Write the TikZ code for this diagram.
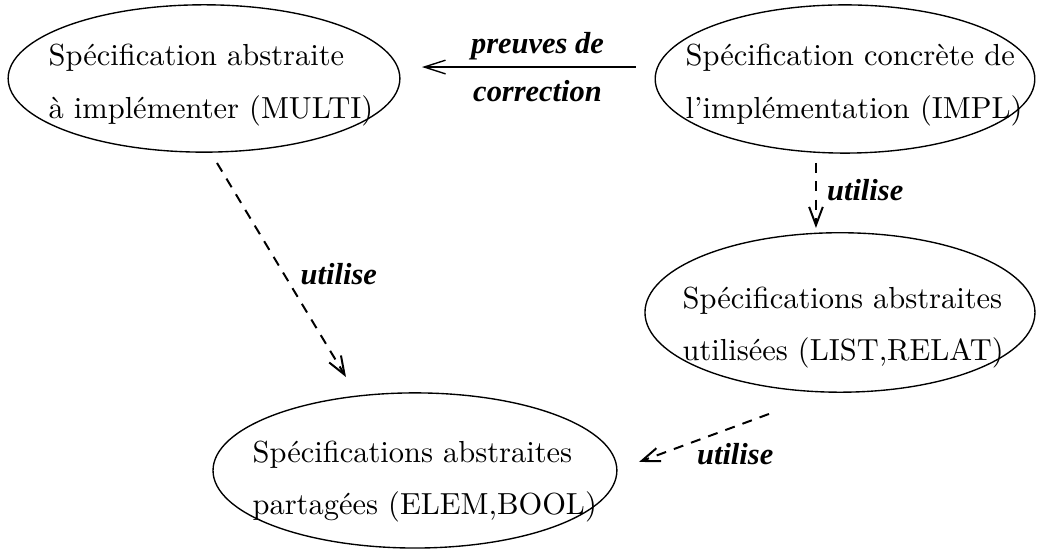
\documentclass[tikz,border=0pt]{standalone}
\usepackage{fontspec}
\newfontfamily\lblfont{Liberation Serif}
\usetikzlibrary{
  arrows.meta,
  shapes.geometric
}
\tikzset{
  spec/.style={
    draw,
    ellipse,
    inner sep=0pt,
    line width=0.45pt},
  txt/.style={
    anchor=west,
    align=left,
    inner sep=0pt},
  lbl/.style={
    font=\lblfont\bfseries\itshape},
  proof/.style={
    -{Straight Barb[length=7pt,width=4.5pt]},
    line width=0.45pt},
  uses/.style={
    -{Straight Barb[length=6pt,width=4.5pt]},
    dash pattern=on 3.3pt off 2.7pt,
    line width=0.65pt}
  }

\begin{document}
\begin{tikzpicture}
    \useasboundingbox (0,0) rectangle (12,6.4615);
    \node[spec, minimum width=4.52cm, minimum height=1.70cm] (multi) at (2.354,5.556) {};
    \node[spec, minimum width=4.38cm, minimum height=1.71cm] (impl) at (9.750,5.550) {};
    \node[spec, minimum width=4.50cm, minimum height=1.84cm] (used) at (9.692,2.856) {};
    \node[spec, minimum width=4.66cm, minimum height=1.79cm] (shared) at (4.788,1.033) {};
    \node[txt] (multi-t) at (0.554,5.480) {Spécification abstraite\\[5.1pt]à implémenter (MULTI)};
    \node[txt] (impl-t) at (7.904,5.480) {Spécification concrète de\\[5.1pt]l’implémentation (IMPL)};
    \node[txt] (used-t) at (7.869,2.685) {Spécifications abstraites\\[5.1pt]utilisées (LIST,RELAT)};
    \node[txt] (shared-t) at (2.908,0.900) {Spécifications abstraites\\[5.1pt]partagées (ELEM,BOOL)};
    \coordinate (impl-l) at (7.338,5.688);
    \coordinate (multi-r) at (4.869,5.688);
    \coordinate (impl-b) at (9.415,4.581);
    \coordinate (used-a) at (9.415,3.831);
    \coordinate (multi-b) at (2.504,4.581);
    \coordinate (shared-a) at (3.992,2.111);
    \coordinate (used-b) at (8.873,1.685);
    \coordinate (shared-r) at (7.373,1.131);
    \draw
    (impl-l) edge[proof] node[lbl, align=center, pos=0.46]{preuves de\\[4pt]correction} (multi-r);
    \draw
    (impl-b) edge[uses] node[lbl, right, pos=0.42]{utilise} (used-a)
    (multi-b) edge[uses] node[lbl, right=1.8pt, pos=0.52]{utilise} (shared-a)
    (used-b) edge[uses] node[lbl, below=2pt, pos=0.26]{utilise} (shared-r);
  \end{tikzpicture}
\end{document}
